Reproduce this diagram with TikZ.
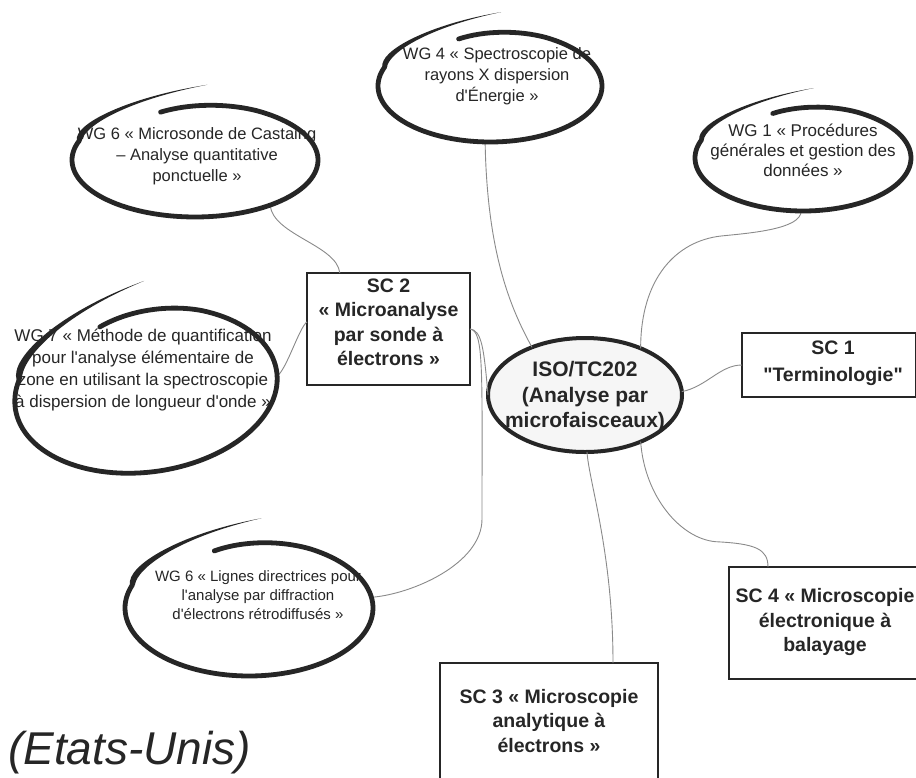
\documentclass[tikz,border=0pt]{standalone}
\usepackage{fontspec}
\setmainfont{Liberation Sans}[Ligatures=TeXOff]
\usetikzlibrary{shapes.geometric}
\definecolor{ink}{HTML}{262626}
\definecolor{wirecol}{HTML}{8A8A8A}
\tikzset{
  anchorell/.style={ellipse, draw=none, inner sep=0pt, outer sep=0pt},
  wgtext/.style={align=center, text=ink, inner sep=0pt, font=\fontsize{16.5}{21}\selectfont},
  sctext/.style={align=center, text=ink, inner sep=0pt, font=\bfseries\fontsize{19.5}{24.5}\selectfont},
  scbox/.style={rectangle, draw=ink, line width=1.1pt, fill=white, inner sep=0pt, outer sep=0pt},
  link/.style={draw=wirecol, line width=0.9pt},
  brush/.style={draw=ink, line width=4.8pt, line cap=round, line join=round},
}
\newcommand{\brushring}[5]{%
  \begin{scope}[shift={(#1,#2)}, rotate=#5, xscale=#3, yscale=#4]
    \draw[brush] (-0.28,-0.84) .. controls (-0.05,-0.99) and (0.25,-1.0) .. (0.5,-0.866)
      -- plot[domain=-60:200, samples=90, variable=\t] ({cos(\t)},{sin(\t)});
    \fill[ink] (-0.96,-0.34) .. controls (-0.99,-0.63) and (-0.55,-1.1) .. (0.1,-1.32)
      .. controls (-0.55,-1.05) and (-0.90,-0.60) .. (-0.92,-0.34) -- cycle;
  \end{scope}}
\begin{document}
\begin{tikzpicture}[x=1pt,y=-1pt]
\clip (0,0) rectangle (916,777);
\fill[white] (0,0) rectangle (916,777);

% anchor ellipses for the working groups
\node[anchorell, minimum width=224pt, minimum height=112pt] (wg4) at (490,86) {};
\node[anchorell, minimum width=216pt, minimum height=106pt] (wg1) at (803,158) {};
\node[anchorell, minimum width=246pt, minimum height=114pt] (wg6a) at (195,160) {};
\node[anchorell, minimum width=264pt, minimum height=164pt, rotate=8] (wg7) at (146,390) {};
\node[anchorell, minimum width=248pt, minimum height=136pt] (wg6b) at (249,608) {};

% central ellipse
\node[anchorell, draw=ink, line width=4pt, fill=gray!7, minimum width=194pt, minimum height=114pt] (iso) at (585,395) {};

% boxes
\node[scbox, minimum width=174pt, minimum height=64pt] (sc1) at (829,365) {};
\node[scbox, minimum width=163pt, minimum height=112pt] (sc2) at (388.5,329) {};
\node[scbox, minimum width=218pt, minimum height=116pt] (sc3) at (549,721) {};
\node[scbox, minimum width=192pt, minimum height=112pt] (sc4) at (825,623) {};

% connectors
\draw[link] (wg4.265) .. controls +(2,110) and +(-22,-40) .. (iso.138);
\draw[link] (wg1.268) .. controls +(0,18) and +(30,-3) .. ++(-80,25)
   .. controls +(-45,5) and +(0,-70) .. (iso.40);
\draw[link] (iso.2) .. controls +(25,-5) and +(-22,0) .. (sc1.west);
\draw[link] (iso.180) .. controls +(-4,-45) and +(12,1) .. (sc2.east);
\draw[link] (sc2.east) .. controls +(14,2) and +(0,-150) .. ++(12,190)
   .. controls +(0,45) and +(40,-3) .. (wg6b.5);
\draw[link] (wg7.-2) .. controls +(10,-8) and +(-8,6) .. (sc2.175);
\draw[link] (wg6a.-31) .. controls +(3,30) and +(-3,-28) .. (sc2.131);
\draw[link] (iso.272) .. controls +(2,30) and +(0,-110) .. ([xshift=64pt]sc3.north);
\draw[link] (iso.-40) .. controls +(4,55) and +(-35,-3) .. ++(75,100)
   .. controls +(40,2) and +(0,-18) .. ([xshift=-57pt]sc4.north);

% texts
\node[align=center, text=ink, inner sep=0pt, font=\bfseries\fontsize{21}{25.5}\selectfont] (isot) at (585,397) {ISO/TC202\\(Analyse par\\microfaisceaux)};
\node[align=center, text=ink, inner sep=0pt, font=\bfseries\fontsize{19.5}{27}\selectfont] (sc1t) at (833,363.5) {SC 1\\\symbol{34}Terminologie\symbol{34}};
\node[sctext] (sc2t) at (388.5,322.5) {SC 2\\« Microanalyse\\par sonde à\\électrons »};
\node[sctext] (sc3t) at (549,721) {SC 3 « Microscopie\\analytique à\\électrons »};
\node[sctext] (sc4t) at (825,622) {SC 4 « Microscopie\\électronique à\\balayage};

\node[wgtext] (wg4t) at (497,76) {WG 4 « Spectroscopie de\\rayons X dispersion\\d'Énergie »};
\node[wgtext, font=\fontsize{17}{20}\selectfont] (wg1t) at (803,150) {WG 1 « Procédures\\générales et gestion des\\données »};
\node[wgtext] (wg6at) at (197,156) {WG 6 « Microsonde de Castaing\\– Analyse quantitative\\ponctuelle »};
\node[wgtext, font=\fontsize{17}{22}\selectfont] (wg7t) at (143,370) {WG 7 « Méthode de quantification\\pour l'analyse élémentaire de\\zone en utilisant la spectroscopie\\à dispersion de longueur d'onde »};
\node[wgtext, font=\fontsize{15}{19}\selectfont] (wg6bt) at (258,595) {WG 6 « Lignes directrices pour\\l'analyse par diffraction\\d'électrons rétrodiffusés »};

% brush rings drawn over the text
\brushring{490}{86}{112}{56}{0}
\brushring{803}{158}{108}{53}{0}
\brushring{195}{160}{123}{57}{0}
\brushring{146}{390}{132}{82}{8}
\brushring{249}{608}{124}{68}{0}

\node[anchor=base west, inner sep=0pt, text=ink, font=\itshape\fontsize{46}{50}\selectfont] (etats) at (8,764) {(Etats-Unis)};
\end{tikzpicture}
\end{document}
